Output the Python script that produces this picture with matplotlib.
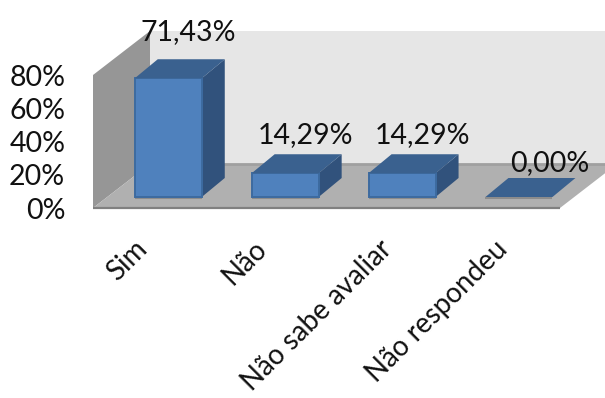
import matplotlib
matplotlib.use("Agg")
import matplotlib.pyplot as plt
from matplotlib.patches import Polygon
from matplotlib.transforms import ScaledTranslation

categories = ["Sim", "Não", "Não sabe avaliar", "Não respondeu"]
values = [71.43, 14.29, 14.29, 0.00]
value_labels = ["71,43%", "14,29%", "14,29%", "0,00%"]
y_ticks = [0, 20, 40, 60, 80]
y_tick_labels = ["0%", "20%", "40%", "60%", "80%"]

W, H = 605, 398
plt.rcParams["font.family"] = ["Lato", "DejaVu Sans"]
fig = plt.figure(figsize=(W / 100, H / 100), dpi=100, facecolor="white")
L, R, T, B = 93, 560, 75, 208
ax = fig.add_axes([L / W, 1 - B / H, (R - L) / W, (B - T) / H])
ax.patch.set_visible(False)
x0, x1 = -0.519, 3.476
ax.set_xlim(x0, x1)
ax.set_ylim(0, 80)
for s in ax.spines.values():
    s.set_visible(False)

px_x = (x1 - x0) / (R - L)
px_y = 80 / (B - T)


def shift(x, y, dx_px, dy_px):
    return (x + dx_px * px_x, y + dy_px * px_y)


def poly(pts, color, z, edge="none", lw=0):
    ax.add_patch(Polygon(pts, closed=True, facecolor=color, edgecolor=edge,
                         linewidth=lw, zorder=z, clip_on=False))


WALL = (57, 44)
# back wall
poly([shift(x0, 0, *WALL), shift(x1, 0, *WALL), shift(x1, 80, *WALL), shift(x0, 80, *WALL)], "#E6E6E6", 1)
# side wall
poly([(x0, 0), shift(x0, 0, *WALL), shift(x0, 80, *WALL), (x0, 80)], "#969696", 2)
# floor
poly([(x0, 0), (x1, 0), shift(x1, 0, *WALL), shift(x0, 0, *WALL)], "#B0B0B0", 2)
ax.plot([shift(x0, 0, *WALL)[0], shift(x1, 0, *WALL)[0]], [shift(x0, 0, *WALL)[1]] * 2,
        color="#A0A0A0", lw=2, zorder=2.5, clip_on=False, solid_capstyle="butt")
ax.plot([x0, x1], [0, 0], color="#808080", lw=1.6, zorder=3, clip_on=False, solid_capstyle="butt")

half = 33.5 * px_x
FRONT = (14.6, 11)
DEPTH = (23, 19)
label_offsets = [46, 38, 38, 34]
for i, (v, lab, off) in enumerate(zip(values, value_labels, label_offsets)):
    a = shift(i - half, 0, *FRONT)
    b = shift(i + half, 0, *FRONT)
    c = shift(i + half, v, *FRONT)
    d = shift(i - half, v, *FRONT)
    bb = shift(b[0], b[1], *DEPTH)
    cb = shift(c[0], c[1], *DEPTH)
    db = shift(d[0], d[1], *DEPTH)
    z = 5 + i
    ax.plot([a[0], b[0]], [a[1] - 1.2 * px_y] * 2, color="#8C8C8C", lw=1.5, zorder=z - 0.5,
            clip_on=False, solid_capstyle="butt")
    if v > 0:
        poly([b, bb, cb, c], "#31527C", z)
        poly([a, b, c, d], "#4F81BD", z, edge="#3D6BA0", lw=1.4)
    poly([d, c, cb, db], "#3A618F", z + 0.1)
    ax.annotate(lab, xy=((c[0] + d[0]) / 2, c[1]), xytext=(20 if v > 0 else 31, off),
                textcoords="offset pixels", ha="center", va="center", fontsize=20.5,
                color="#111111", zorder=20, annotation_clip=False)

ax.set_yticks(y_ticks, y_tick_labels, fontsize=20.5, color="#111111")
ax.tick_params(axis="y", length=0, pad=20)
ax.set_xticks(range(len(categories)))
ax.set_xticklabels(categories, rotation=45, ha="right", va="top", rotation_mode="anchor",
                   fontsize=20, color="#111111")
ax.tick_params(axis="x", length=0, pad=20)
x_label_nudges = [-20, -17, -9, -10]
for t, n in zip(ax.get_xticklabels(), x_label_nudges):
    t.set_transform(t.get_transform() + ScaledTranslation(n / 100, 0, fig.dpi_scale_trans))

fig.savefig("out.png", dpi=100, facecolor="white")
